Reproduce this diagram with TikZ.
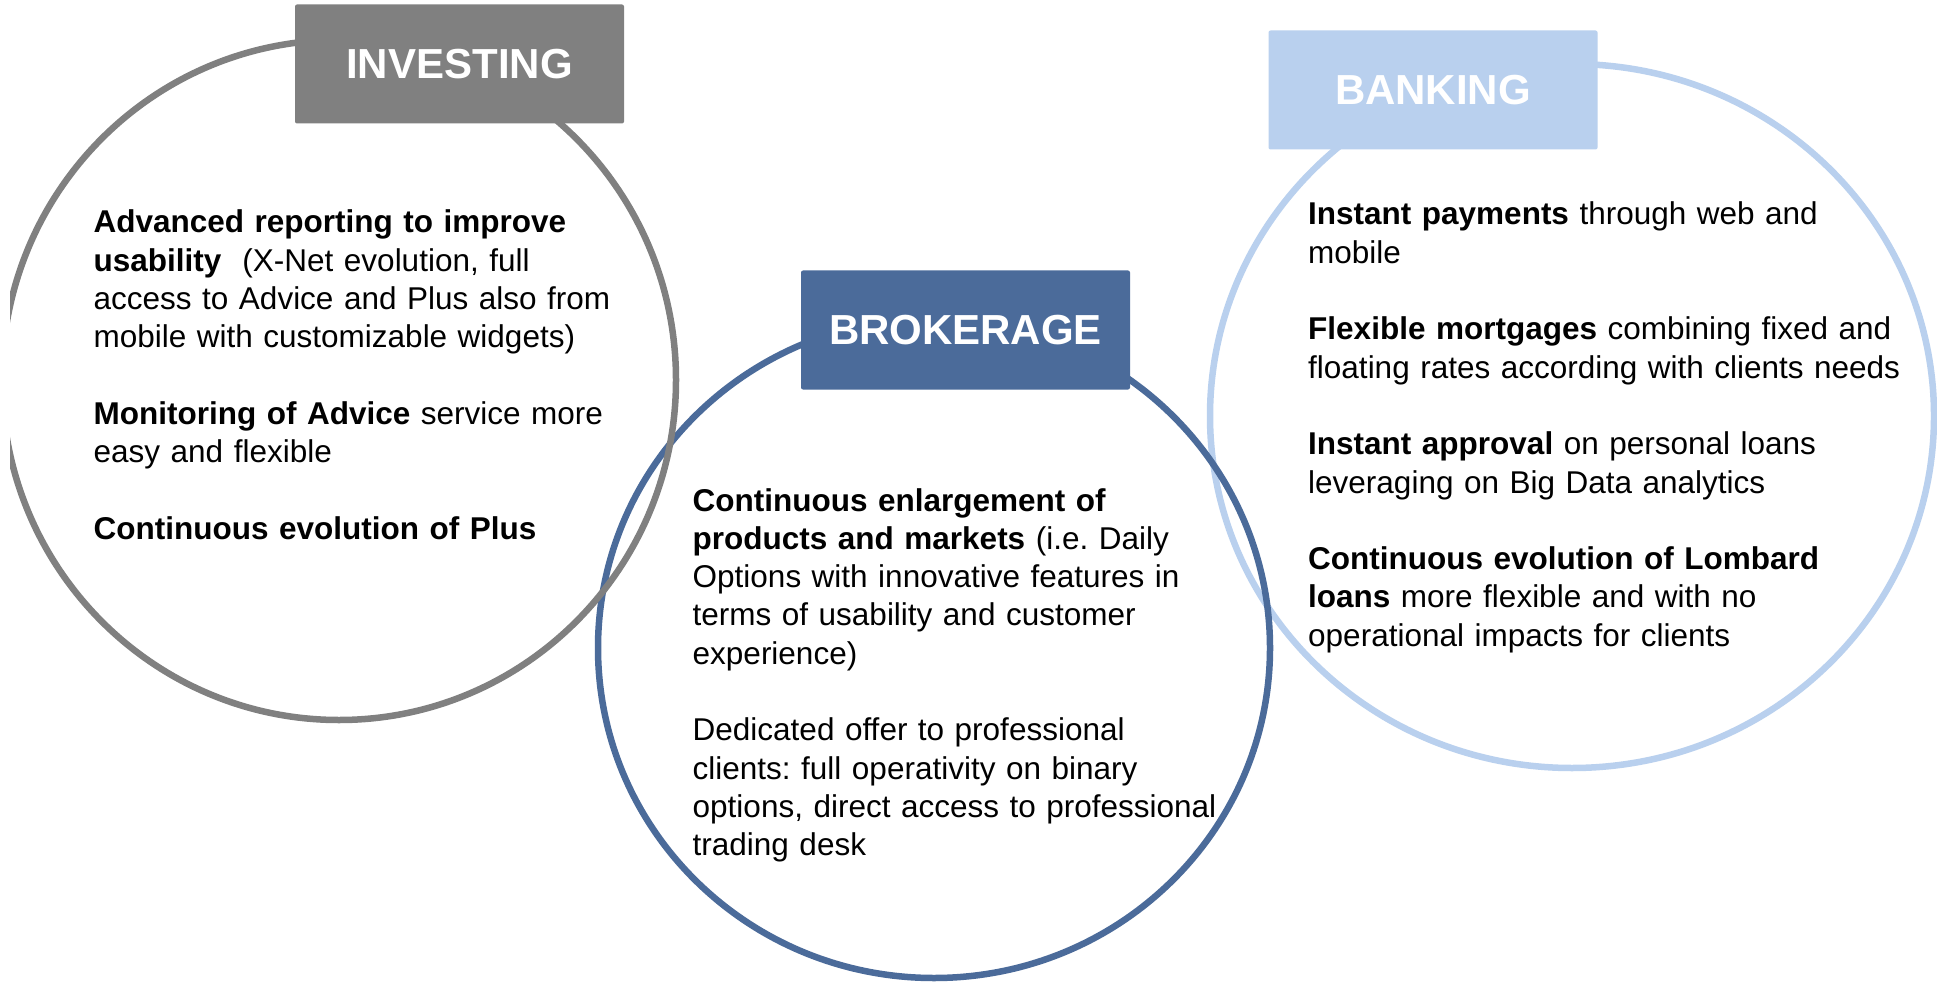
\documentclass[tikz,border=0pt]{standalone}
\usepackage{fontspec}
\setmainfont{Liberation Sans}
\usetikzlibrary{shapes.geometric}
\definecolor{invgray}{HTML}{808080}
\definecolor{brokblue}{HTML}{4B6B9A}
\definecolor{bankblue}{HTML}{B9D0EE}
\tikzset{
  ring/.style={ellipse, draw=#1, line width=6.5pt, inner sep=0pt, outer sep=0pt},
  headbox/.style={fill=#1, rounded corners=2pt, minimum width=329pt, minimum height=119pt,
    inner sep=0pt, text=white, font=\fontsize{42}{50}\selectfont\bfseries},
  bodytext/.style={anchor=base west, inner sep=0pt, text width=760pt, align=left,
    font=\fontsize{31.5}{38.3}\selectfont\frenchspacing}
}
\begin{document}
\begin{tikzpicture}[x=1pt,y=-1pt]
\useasboundingbox[fill=white] (0,0) rectangle (1937,984);
% rings
\node[ring=bankblue, minimum width=724pt, minimum height=704pt] (bankC) at (1572,416) {};
\node[ring=brokblue, minimum width=672pt, minimum height=660pt] (brokC) at (934,648) {};
\begin{scope}
  \clip (10,0) rectangle (1937,984);
  \node[ring=invgray, minimum width=674pt, minimum height=680pt] (invC) at (339,380) {};
\end{scope}
% header boxes
\node[headbox=invgray] (invH) at (459.5,64) {INVESTING};
\node[headbox=brokblue] (brokH) at (965.5,330) {BROKERAGE};
\node[headbox=bankblue] (bankH) at (1433,90) {BANKING};
% texts
\node[bodytext] (invT) at (93.5,233) {%
\textbf{Advanced reporting to improve}\\
\textbf{usability}\ \ (X-Net evolution, full\\
access to Advice and Plus also from\\
mobile with customizable widgets)\\[38.3pt]
\textbf{Monitoring of Advice} service more\\
easy and flexible\\[38.3pt]
\textbf{Continuous evolution of Plus}};
\node[bodytext] (brokT) at (692.5,511) {%
\textbf{Continuous enlargement of}\\
\textbf{products and markets} (i.e. Daily\\
Options with innovative features in\\
terms of usability and customer\\
experience)\\[38.3pt]
Dedicated offer to professional\\
clients: full operativity on binary\\
options, direct access to professional\\
trading desk};
\node[bodytext] (bankT) at (1308,225) {%
\textbf{Instant payments} through web and\\
mobile\\[38.3pt]
\textbf{Flexible mortgages} combining fixed and\\
floating rates according with clients needs\\[38.3pt]
\textbf{Instant approval} on personal loans\\
leveraging on Big Data analytics\\[38.3pt]
\textbf{Continuous evolution of Lombard}\\
\textbf{loans} more flexible and with no\\
operational impacts for clients};
\end{tikzpicture}
\end{document}
